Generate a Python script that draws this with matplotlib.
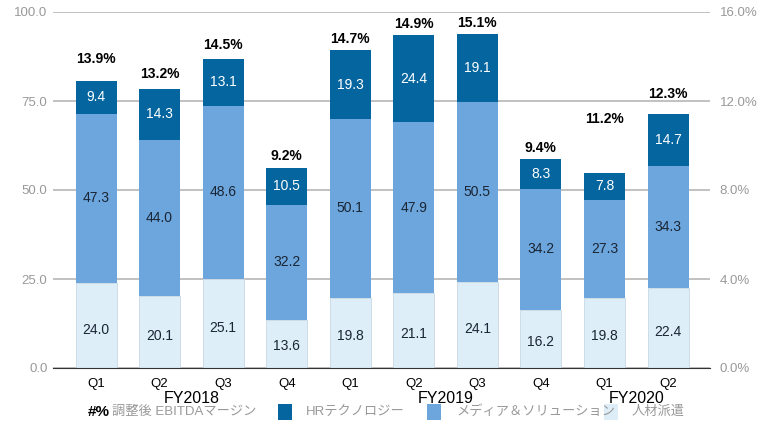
import matplotlib.pyplot as plt
from matplotlib.patches import Rectangle
import numpy as np

plt.rcParams['font.family'] = ['Liberation Sans', 'Noto Sans CJK JP', 'DejaVu Sans']

quarters = ['Q1', 'Q2', 'Q3', 'Q4', 'Q1', 'Q2', 'Q3', 'Q4', 'Q1', 'Q2']
years = ['FY2018', 'FY2019', 'FY2020']
year_pos = [1.5, 5.5, 8.5]

staffing = [24.0, 20.1, 25.1, 13.6, 19.8, 21.1, 24.1, 16.2, 19.8, 22.4]
media = [47.3, 44.0, 48.6, 32.2, 50.1, 47.9, 50.5, 34.2, 27.3, 34.3]
hrtech = [9.4, 14.3, 13.1, 10.5, 19.3, 24.4, 19.1, 8.3, 7.8, 14.7]
margin = [13.9, 13.2, 14.5, 9.2, 14.7, 14.9, 15.1, 9.4, 11.2, 12.3]

c_hr = '#05669f'
c_media = '#6ca6dc'
c_staff = '#ddeef9'
grey = '#999999'

fig = plt.figure(figsize=(7.66, 4.22), dpi=100)
ax = fig.add_axes([53/766, 1 - 368/422, (710-53)/766, (368-12)/422])
x = np.arange(len(quarters))
w = 0.645

staffing = np.array(staffing)
media = np.array(media)
hrtech = np.array(hrtech)

ax.bar(x, staffing, w, color=c_staff, edgecolor='#c8d8e4', linewidth=0.6, zorder=2)
ax.bar(x, media, w, bottom=staffing, color=c_media, zorder=2)
ax.bar(x, hrtech, w, bottom=staffing + media, color=c_hr, zorder=2)

for i in range(len(x)):
    ax.text(x[i], staffing[i] * 0.45, f'{staffing[i]:.1f}', ha='center', va='center',
            fontsize=10, color='#1a2535', zorder=3)
    ax.text(x[i], staffing[i] + media[i] / 2, f'{media[i]:.1f}', ha='center', va='center',
            fontsize=10, color='#1a2535', zorder=3)
    ax.text(x[i], staffing[i] + media[i] + hrtech[i] / 2, f'{hrtech[i]:.1f}', ha='center',
            va='center', fontsize=10, color='white', zorder=3)

ax.set_xlim(-0.677, 9.66)
ax.set_ylim(0, 100)
ax.set_yticks([0, 25, 50, 75, 100])
ax.set_yticklabels(['0.0', '25.0', '50.0', '75.0', '100.0'])
ax.grid(axis='y', color='#b0b0b0', linewidth=1.1, zorder=0)
for s in ['top', 'right', 'left']:
    ax.spines[s].set_visible(False)
ax.spines['bottom'].set_color('#333333')
ax.tick_params(axis='y', length=0, pad=4, labelcolor=grey, labelsize=9.5)
ax.set_xticks(x)
ax.set_xticklabels(quarters, fontsize=9.5)
ax.tick_params(axis='x', length=0, pad=7)

ax2 = ax.twinx()
ax2.set_ylim(0, 16)
ax2.set_yticks([0, 4, 8, 12, 16])
ax2.set_yticklabels(['0.0%', '4.0%', '8.0%', '12.0%', '16.0%'])
ax2.tick_params(axis='y', length=0, pad=7, labelcolor=grey, labelsize=9.5)
for s in ax2.spines.values():
    s.set_visible(False)

totals = staffing + media + hrtech
for i in range(len(x)):
    y = max(margin[i], totals[i] * 0.16 + 0.5)
    ax2.text(x[i], y, f'{margin[i]:.1f}%', ha='center', va='center',
             fontsize=10, fontweight='bold', color='black')

for yr, p in zip(years, year_pos):
    ax.text(p, -0.085, yr, transform=ax.get_xaxis_transform(), ha='center', va='center',
            fontsize=11.5)

# legend row
ly = 1 - 412/422
fig.text(88/766, ly, '#%', fontsize=11, fontweight='bold', va='center')
fig.text(112/766, ly, '調整後 EBITDAマージン', fontsize=9.5, color=grey, va='center')
items = [(278, 306, c_hr, 'HRテクノロジー'),
         (427, 456, c_media, 'メディア＆ソリューション'),
         (604, 632, c_staff, '人材派遣')]
for sx, tx, col, lab in items:
    fig.patches.append(Rectangle((sx/766, ly - 8/422), 14/766, 16/422, transform=fig.transFigure,
                                 facecolor=col, edgecolor='none'))
    fig.text(tx/766, ly, lab, fontsize=9.5, color=grey, va='center')

fig.savefig('out.png', dpi=100)
